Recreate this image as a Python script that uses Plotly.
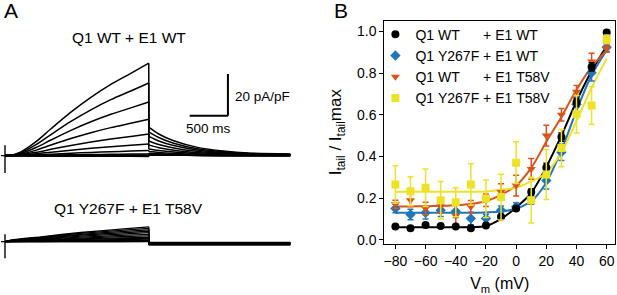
import plotly.graph_objects as go

FONT = "Liberation Sans, Arial, Helvetica, sans-serif"
W, H = 617, 295

# ---------------- Panel B data ----------------
voltages_mv = [-80, -70, -60, -50, -40, -30, -20, -10, 0, 10, 20, 30, 40, 50, 60]

wt_wt = [0.063, 0.055, 0.071, 0.066, 0.063, 0.055, 0.068, 0.11, 0.15, 0.229, 0.347, 0.493, 0.66, 0.83, 0.995]
wt_wt_err = [0.008, 0.008, 0.008, 0.008, 0.008, 0.008, 0.008, 0.01, 0.01, 0.015, 0.02, 0.02, 0.02, 0.02, 0.01]
y267f_wt = [0.15, 0.121, 0.129, 0.142, 0.137, 0.102, 0.102, 0.142, 0.158, 0.2, 0.284, 0.42, 0.65, 0.802, 0.924]
y267f_wt_err = [0.02, 0.025, 0.03, 0.03, 0.03, 0.03, 0.02, 0.02, 0.02, 0.03, 0.04, 0.04, 0.04, 0.04, 0.02]
wt_t58v = [0.17, 0.19, 0.15, 0.16, 0.115, 0.158, 0.19, 0.229, 0.26, 0.34, 0.5, 0.6, 0.711, 0.856, 0.92]
wt_t58v_err = [0.02, 0.03, 0.03, 0.03, 0.05, 0.03, 0.03, 0.04, 0.05, 0.05, 0.05, 0.03, 0.03, 0.04, 0.02]
y267f_t58v = [0.265, 0.233, 0.25, 0.19, 0.18, 0.265, 0.197, 0.205, 0.37, 0.19, 0.313, 0.44, 0.603, 0.645, 0.963]
y267f_t58v_err = [0.09, 0.07, 0.09, 0.09, 0.07, 0.1, 0.09, 0.11, 0.1, 0.11, 0.12, 0.09, 0.09, 0.09, 0.02]

# fitted curves, read at each voltage
fit_wt_wt = [0.06, 0.06, 0.06, 0.06, 0.06, 0.061, 0.066, 0.1, 0.155, 0.225, 0.35, 0.5, 0.665, 0.81, 0.93]
fit_y267f_wt = [0.13, 0.13, 0.13, 0.13, 0.13, 0.13, 0.131, 0.135, 0.15, 0.185, 0.275, 0.43, 0.62, 0.79, 0.91]
fit_wt_t58v = [0.16, 0.16, 0.161, 0.163, 0.166, 0.172, 0.185, 0.215, 0.26, 0.345, 0.47, 0.59, 0.72, 0.83, 0.91]
fit_y267f_t58v = [0.23, 0.23, 0.23, 0.23, 0.23, 0.23, 0.232, 0.24, 0.25, 0.28, 0.32, 0.42, 0.57, 0.73, 0.87]

series_names = [
    "Q1\u00a0WT\u00a0\u00a0\u00a0\u00a0\u00a0\u00a0+\u00a0E1\u00a0WT",
    "Q1\u00a0Y267F\u00a0+\u00a0E1\u00a0WT",
    "Q1\u00a0WT\u00a0\u00a0\u00a0\u00a0\u00a0\u00a0+\u00a0E1\u00a0T58V",
    "Q1\u00a0Y267F\u00a0+\u00a0E1\u00a0T58V",
]
series_colors = ["#000000", "#1f77b9", "#d9541a", "#eee227"]
series_symbols = ["circle", "diamond", "triangle-down", "square"]
series_sizes = [8, 8, 8, 8]

# ---------------- Panel A data ----------------
# end-of-step current (pA/pF) for each sweep, -80 ... +60 mV
wt_step_end = [-0.4, -0.3, -0.2, -0.1, 0.0, 0.1, 0.2, 0.8, 2.4, 5.5, 10.3, 17.4, 25.7, 34.8, 44.3]
wt_tail_peak = [0.3, 0.35, 0.4, 0.45, 0.5, 0.55, 0.7, 1.1, 1.9, 3.2, 5.0, 7.0, 9.2, 11.4, 13.6]
wt_step_time_ms = [0, 52, 209, 405, 601, 862, 1123, 1384, 1645, 1880]
wt_step_fraction = [0, 0, 0.04, 0.15, 0.29, 0.47, 0.63, 0.77, 0.89, 1.0]
wt_tail_time_ms = [1880, 2010, 2205, 2530, 2855, 3180, 3730]
wt_tail_fraction = [1.0, 0.76, 0.52, 0.28, 0.16, 0.09, 0.06]

mut_step_end = [0.0, 0.1, 0.25, 0.5, 0.7, 1.2, 1.65, 2.1, 2.8, 3.5, 4.3, 5.0, 5.7, 6.4, 7.1]
mut_tail_level = [-0.35, -0.45, -0.5, -0.6, -0.65, -0.75, -0.8, -0.9, -1.0, -1.05, -1.15, -1.25, -1.35, -1.45, -1.55]
mut_step_time_ms = [0, 78, 470, 992, 1514, 1880]
mut_step_fraction = [0, 0.1, 0.33, 0.62, 0.85, 1.0]
mut_tail_time_ms = [1880, 3730]

prepulse_time_ms = [-52, 0]
cap_transient_wt = [5.0, -8.4]
cap_transient_mut = [3.5, -7.9]

scalebar_time_ms = 500
scalebar_current = 20


def build_sweeps(step_end, step_t, step_f, tail_start, tail_t, tail_f):
    xs, ys = [], []
    for a, b in zip(step_end, tail_start):
        xs += list(step_t) + [None]
        ys += [a * f for f in step_f] + [None]
        xs += [step_t[-1], tail_t[0], None]
        ys += [a, b, None]
        xs += list(tail_t) + [None]
        ys += [b * f for f in tail_f] + [None]
    return xs, ys


fig = go.Figure()

# ---- Panel A: WT traces (axes x2/y2) ----
sx, sy = build_sweeps(wt_step_end, wt_step_time_ms, wt_step_fraction,
                      wt_tail_peak, wt_tail_time_ms, wt_tail_fraction)
fig.add_trace(go.Scatter(x=sx, y=sy, mode="lines", xaxis="x2", yaxis="y2",
                         line=dict(color="black", width=1.5, shape="spline", smoothing=0.8),
                         connectgaps=False, showlegend=False, hoverinfo="skip"))
fig.add_trace(go.Scatter(x=prepulse_time_ms + [None, 0, 0], y=[0, 0, None] + cap_transient_wt,
                         mode="lines", xaxis="x2", yaxis="y2",
                         line=dict(color="black", width=1.4), showlegend=False, hoverinfo="skip"))

# ---- Panel A: mutant traces (axes x3/y3) ----
mx, my = build_sweeps(mut_step_end, mut_step_time_ms, mut_step_fraction,
                      mut_tail_level, mut_tail_time_ms, [1.0, 1.0])
fig.add_trace(go.Scatter(x=mx, y=my, mode="lines", xaxis="x3", yaxis="y3",
                         line=dict(color="black", width=1.3, shape="spline", smoothing=0.8),
                         connectgaps=False, showlegend=False, hoverinfo="skip"))
fig.add_trace(go.Scatter(x=prepulse_time_ms + [None, 0, 0], y=[0, 0, None] + cap_transient_mut,
                         mode="lines", xaxis="x3", yaxis="y3",
                         line=dict(color="black", width=1.4), showlegend=False, hoverinfo="skip"))

# ---- Panel B ----
fits = [fit_wt_wt, fit_y267f_wt, fit_wt_t58v, fit_y267f_t58v]
means = [wt_wt, y267f_wt, wt_t58v, y267f_t58v]
errs = [wt_wt_err, y267f_wt_err, wt_t58v_err, y267f_t58v_err]

for i in range(4):
    fig.add_trace(go.Scatter(x=voltages_mv, y=fits[i], mode="lines",
                             line=dict(color=series_colors[i], width=2, shape="spline", smoothing=0.9),
                             showlegend=False, hoverinfo="skip"))

draw_order = [1, 2, 0, 3]
for i in draw_order:
    fig.add_trace(go.Scatter(
        x=voltages_mv, y=means[i], mode="markers", name=series_names[i],
        legendrank=i + 1,
        marker=dict(symbol=series_symbols[i], size=series_sizes[i], color=series_colors[i],
                    line=dict(width=0)),
        error_y=dict(type="data", array=errs[i], visible=True, color=series_colors[i],
                     thickness=1.5, width=3),
    ))

# ---------------- layout ----------------
def px_x(p):
    return p / W


def px_y(p):
    return 1 - p / H


axis_common = dict(showline=True, linecolor="black", linewidth=1.3, mirror=True,
                   ticks="outside", ticklen=4, tickwidth=1.3, tickcolor="black",
                   showgrid=False, zeroline=False,
                   tickfont=dict(family=FONT, size=14, color="black"))

fig.update_layout(
    width=W, height=H,
    margin=dict(l=0, r=0, t=0, b=0),
    paper_bgcolor="white", plot_bgcolor="white",
    font=dict(family=FONT, color="black"),
    xaxis=dict(domain=[px_x(384), px_x(615)], range=[-87.3, 65.5],
               tickvals=[-80, -60, -40, -20, 0, 20, 40, 60],
               title=dict(text="V<sub>m</sub> (mV)", font=dict(family=FONT, size=16), standoff=10),
               **axis_common),
    yaxis=dict(domain=[px_y(247), px_y(21)], range=[-0.019, 1.052],
               tickvals=[0, 0.2, 0.4, 0.6, 0.8, 1.0], tickformat=".1f",
               title=dict(text="I<sub>tail</sub> / I<sub>tail</sub>max", font=dict(family=FONT, size=17),
                          standoff=10),
               **axis_common),
    xaxis2=dict(domain=[0, px_x(300)], range=[-52.2, 3864], visible=False, anchor="y2"),
    yaxis2=dict(domain=[px_y(185), px_y(45)], range=[-12.9, 53.3], visible=False, anchor="x2"),
    xaxis3=dict(domain=[0, px_x(300)], range=[-52.2, 3864], visible=False, anchor="y3"),
    yaxis3=dict(domain=[px_y(275), px_y(215)], range=[-14.18, 14.18], visible=False, anchor="x3"),
    legend=dict(x=px_x(375), y=px_y(19), xanchor="left", yanchor="top",
                bgcolor="rgba(0,0,0,0)", font=dict(family=FONT, size=14, color="black"),
                itemsizing="trace", traceorder="normal"),
    showlegend=True,
)

# scale bar (time and current) in the WT axes
bar_t_end = 2915
bar_i_base = 19.1
fig.add_shape(type="line", xref="x2", yref="y2", x0=bar_t_end, x1=bar_t_end,
              y0=bar_i_base, y1=bar_i_base + scalebar_current, line=dict(color="black", width=2))
fig.add_shape(type="line", xref="x2", yref="y2", x0=bar_t_end - scalebar_time_ms, x1=bar_t_end,
              y0=bar_i_base, y1=bar_i_base, line=dict(color="black", width=2))

annots = [
    dict(text="A", x=px_x(1), y=px_y(10.8), xanchor="left", size=21),
    dict(text="B", x=px_x(332), y=px_y(10.8), xanchor="left", size=21),
    dict(text="Q1 WT + E1 WT", x=px_x(128), y=px_y(38.3), xanchor="center", size=15.5),
    dict(text="Q1 Y267F + E1 T58V", x=px_x(128), y=px_y(211.7), xanchor="center", size=15.5),
    dict(text="%d pA/pF" % scalebar_current, x=px_x(232), y=px_y(98.3), xanchor="left", size=13.5),
    dict(text="%d ms" % scalebar_time_ms, x=px_x(207.5), y=px_y(130.7), xanchor="center", size=13.5),
]
for a in annots:
    fig.add_annotation(text=a["text"], x=a["x"], y=a["y"], xref="paper", yref="paper",
                       xanchor=a["xanchor"], yanchor="middle", showarrow=False,
                       font=dict(family=FONT, size=a["size"], color="black"))

fig.write_html("out.html", config={"displayModeBar": False},
               post_script="document.body.style.margin='0px';document.body.style.padding='0px';")
